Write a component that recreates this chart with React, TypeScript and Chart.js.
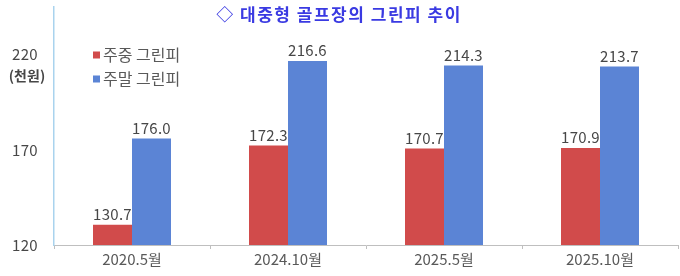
import React, { useEffect, useRef } from "react";
import { Chart, registerables } from "chart.js";

Chart.register(...registerables);

const categories = ["2020.5월", "2024.10월", "2025.5월", "2025.10월"];
const weekday = [130.7, 172.3, 170.7, 170.9];
const weekend = [176.0, 216.6, 214.3, 213.7];
const seriesNames = ["주중 그린피", "주말 그린피"];
const yTicks = [120, 170, 220];
const titleText = "◇ 대중형 골프장의 그린피 추이";
const unitText = "(천원)";

const RED = "#D14B4B";
const BLUE = "#5B84D5";
const FONT = "'Noto Sans CJK KR', 'Noto Sans', sans-serif";

const overlayPlugin = {
  id: "overlay",
  afterDatasetsDraw(chart: any) {
    const ctx = chart.ctx;
    ctx.save();
    // data labels
    ctx.font = `15px ${FONT}`;
    ctx.fillStyle = "#474747";
    ctx.textAlign = "center";
    ctx.textBaseline = "bottom";
    (ctx as any).letterSpacing = "0.3px";
    chart.data.datasets.forEach((ds: any, di: number) => {
      const meta = chart.getDatasetMeta(di);
      meta.data.forEach((bar: any, i: number) => {
        ctx.fillText(Number(ds.data[i]).toFixed(1), bar.x, bar.y - 3);
      });
    });
    // y tick labels (from the y scale)
    const ys = chart.scales.y;
    ctx.font = `15px ${FONT}`;
    ctx.fillStyle = "#474747";
    ctx.textAlign = "center";
    ctx.textBaseline = "middle";
    yTicks.forEach((v) => {
      ctx.fillText(String(v), 25, ys.getPixelForValue(v));
    });
    (ctx as any).letterSpacing = "0px";
    // title
    ctx.font = `bold 17px ${FONT}`;
    (ctx as any).letterSpacing = "1.5px";
    ctx.fillStyle = "#3A3AE2";
    ctx.fillText(titleText, 339, 15);
    (ctx as any).letterSpacing = "0px";
    // unit
    ctx.font = `bold 14px ${FONT}`;
    ctx.fillStyle = "#474747";
    ctx.fillText(unitText, 27, 76);
    // legend
    const items = [
      { label: chart.data.datasets[0].label, color: RED, y: 55 },
      { label: chart.data.datasets[1].label, color: BLUE, y: 79 },
    ];
    ctx.font = `16px ${FONT}`;
    ctx.textAlign = "left";
    items.forEach((it) => {
      ctx.fillStyle = it.color;
      ctx.fillRect(93, it.y - 3.5, 7, 7);
      ctx.fillStyle = "#595959";
      ctx.fillText(it.label, 103, it.y);
    });
    ctx.restore();
  },
};

export default function App() {
  const ref = useRef<HTMLCanvasElement | null>(null);
  useEffect(() => {
    document.body.style.margin = "0";
    const chart = new Chart(ref.current as HTMLCanvasElement, {
      type: "bar",
      data: {
        labels: categories,
        datasets: [
          { label: seriesNames[0], data: weekday, backgroundColor: RED, borderWidth: 0 },
          { label: seriesNames[1], data: weekend, backgroundColor: BLUE, borderWidth: 0 },
        ],
      },
      options: {
        animation: false,
        responsive: false,
        maintainAspectRatio: false,
        layout: { padding: { top: 7, right: 2, left: 0, bottom: 0 } },
        plugins: { legend: { display: false }, tooltip: { enabled: false }, title: { display: false } },
        scales: {
          x: {
            offset: true,
            grid: {
              offset: true,
              drawOnChartArea: false,
              drawTicks: true,
              tickLength: 4,
              color: "#BFBFBF",
            },
            border: { color: "#BFBFBF", width: 1 },
            ticks: { color: "#595959", font: { family: FONT, size: 15 }, padding: 1, maxRotation: 0 },
            afterFit(scale: any) {
              scale.height = 31;
            },
          },
          y: {
            min: 120,
            max: 245,
            grid: { display: false, drawTicks: false },
            border: { color: "#A9D3EE", width: 1.5 },
            afterBuildTicks(scale: any) {
              scale.ticks = yTicks.map((v) => ({ value: v }));
            },
            ticks: { display: false },
            afterFit(scale: any) {
              scale.width = 54;
            },
          },
        },
        datasets: { bar: { categoryPercentage: 0.5, barPercentage: 1.0 } },
      } as any,
      plugins: [overlayPlugin],
    });
    return () => chart.destroy();
  }, []);
  return (
    <div style={{ width: 680, height: 276 }}>
      <canvas ref={ref} width={680} height={276} style={{ width: 680, height: 276, display: "block" }} />
    </div>
  );
}
